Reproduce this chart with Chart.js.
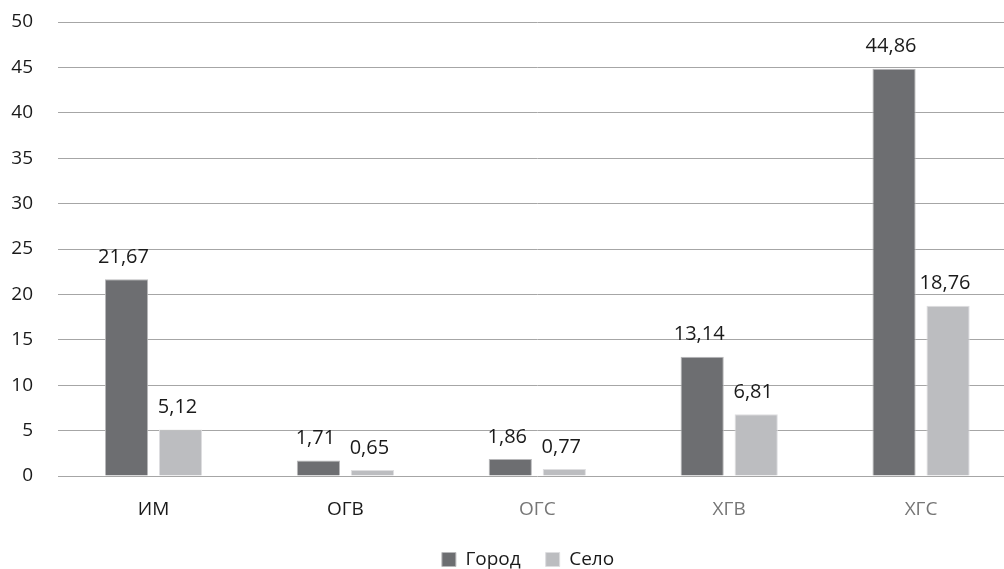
<!DOCTYPE html>
<html>
<head>
<meta charset="utf-8">
<script src="https://cdn.jsdelivr.net/npm/chart.js@4/dist/chart.umd.min.js"></script>
<style>
  html, body { margin: 0; padding: 0; background: #ffffff; overflow: hidden; }
  #wrap { position: relative; width: 1048px; height: 579px; }
</style>
</head>
<body>
<div id="wrap"><canvas id="c" width="1048" height="579"></canvas></div>
<script>
// Categories and values per series
const categories = ['ИМ', 'ОГВ', 'ОГС', 'ХГВ', 'ХГС'];
const cityValues = [21.67, 1.71, 1.86, 13.14, 44.86];
const villageValues = [5.12, 0.65, 0.77, 6.81, 18.76];
const seriesNames = ['Город', 'Село'];
const yTickLabels = ['0', '5', '10', '15', '20', '25', '30', '35', '40', '45', '50'];
const categoryLabelColors = ['#1a1a1a', '#1a1a1a', '#767676', '#767676', '#767676'];

const FONT = '"Open Sans", "Noto Sans", sans-serif';

// Writes each bar's value above it, with a decimal comma
const valueLabels = {
  id: 'valueLabels',
  afterDatasetsDraw(chart) {
    const ctx = chart.ctx;
    ctx.save();
    ctx.font = '20px ' + FONT;
    ctx.fillStyle = '#1a1a1a';
    ctx.textAlign = 'center';
    ctx.textBaseline = 'middle';
    chart.data.datasets.forEach((ds, di) => {
      const meta = chart.getDatasetMeta(di);
      meta.data.forEach((bar, i) => {
        const txt = ds.data[i].toFixed(2).replace('.', ',');
        ctx.fillText(txt, bar.x - 3, bar.y - 22);
      });
    });
    ctx.restore();
  }
};

new Chart(document.getElementById('c'), {
  type: 'bar',
  data: {
    labels: categories,
    datasets: [
      {
        label: seriesNames[0],
        data: cityValues,
        backgroundColor: '#6d6e71',
        borderColor: '#b8b8ba',
        borderWidth: 1,
        categoryPercentage: 0.563,
        barPercentage: 0.8
      },
      {
        label: seriesNames[1],
        data: villageValues,
        backgroundColor: '#bcbdc0',
        borderColor: '#dedee0',
        borderWidth: 1,
        categoryPercentage: 0.563,
        barPercentage: 0.8
      }
    ]
  },
  options: {
    responsive: false,
    animation: false,
    layout: { padding: { left: 8, right: 0, top: 0, bottom: 0 } },
    plugins: {
      tooltip: { enabled: false },
      legend: {
        position: 'bottom',
        labels: {
          font: { family: FONT, size: 19 },
          color: '#1a1a1a',
          boxWidth: 14,
          boxHeight: 14,
          padding: 25
        }
      }
    },
    scales: {
      x: {
        grid: { display: false, drawTicks: false },
        border: { display: false },
        ticks: {
          font: { family: FONT, size: 19 },
          color: categoryLabelColors,
          padding: 22,
          maxRotation: 0
        },
        afterFit(scale) { scale.height = 49; }
      },
      y: {
        min: 0,
        max: 50,
        grid: { color: '#a6a6a6', lineWidth: 1, drawTicks: false },
        border: { display: false },
        ticks: {
          stepSize: 5,
          font: { family: FONT, size: 19 },
          color: '#1a1a1a',
          padding: 24.6,
          callback: (v, i) => yTickLabels[i]
        },
        afterFit(scale) {
          scale.width = 49.6;
          scale.paddingTop = 22;
          scale.paddingBottom = 0;
          scale.paddingRight = 31;
        }
      }
    }
  },
  plugins: [valueLabels]
});
</script>
</body>
</html>
